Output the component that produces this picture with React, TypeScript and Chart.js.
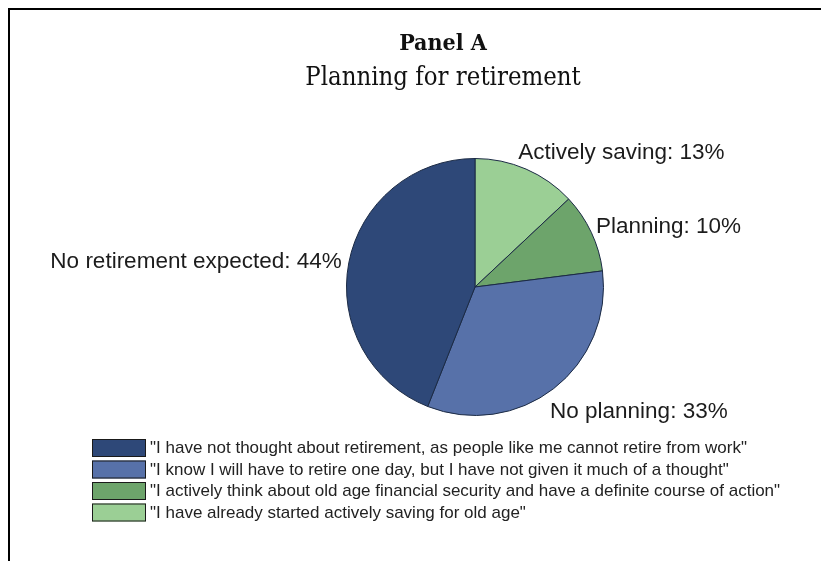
import React, { useEffect, useRef } from "react";
import { Chart, registerables } from "chart.js";

Chart.register(...registerables);

// Slices listed clockwise from 12 o'clock
const categories = ["Actively saving", "Planning", "No planning", "No retirement expected"];
const shares = [13, 10, 33, 44];
const sliceColors = ["#9BCF95", "#6DA46B", "#5771A9", "#2E4878"];

// Legend rows (top to bottom), each pointing at a slice index
const legendOrder = [3, 2, 1, 0];
const legendTexts = [
  "\"I have already started actively saving for old age\"",
  "\"I actively think about old age financial security and have a definite course of action\"",
  "\"I know I will have to retire one day, but I have not given it much of a thought\"",
  "\"I have not thought about retirement, as people like me cannot retire from work\"",
];

const titleText = "Panel A";
const subtitleText = "Planning for retirement";

const W = 821;
const H = 561;

const overlay = {
  id: "overlay",
  afterDraw(chart: any) {
    const ctx = chart.ctx as CanvasRenderingContext2D;
    ctx.save();
    // frame (top + left)
    ctx.fillStyle = "#000";
    ctx.fillRect(8, 8, W - 8, 2);
    ctx.fillRect(8, 8, 2, H - 8);

    // titles
    ctx.textAlign = "center";
    ctx.textBaseline = "middle";
    ctx.fillStyle = "#111";
    ctx.font = "bold 23px 'DejaVu Serif Condensed', 'DejaVu Serif', serif";
    ctx.fillText(titleText, 443, 44);
    ctx.font = "25.5px 'DejaVu Serif Condensed', 'DejaVu Serif', serif";
    ctx.fillText(subtitleText, 443, 78);

    // slice labels
    const meta = chart.getDatasetMeta(0);
    ctx.font = "22.5px 'Liberation Sans', Arial, sans-serif";
    ctx.fillStyle = "#1c1c1c";
    meta.data.forEach((arc: any, i: number) => {
      const p = arc.getProps(["x", "y", "startAngle", "endAngle", "outerRadius"], true);
      const mid = (p.startAngle + p.endAngle) / 2;
      const r = p.outerRadius + 10;
      const s = Math.sin(mid);
      const ax = p.x + Math.cos(mid) * r;
      const ay = p.y + s * r + s * (s > 0 ? 16 : 11) + 3;
      const shift = Math.abs(s) * 15;
      const text = `${categories[i]}: ${shares[i]}%`;
      if (Math.cos(mid) >= 0) {
        ctx.textAlign = "left";
        ctx.fillText(text, ax - shift + 2, ay);
      } else {
        ctx.textAlign = "right";
        ctx.fillText(text, ax + shift, ay);
      }
    });

    // legend
    const boxX = 92;
    const boxW = 54;
    const boxH = 18;
    const top0 = 439;
    const pitch = 21.5;
    ctx.font = "17px 'Liberation Sans', Arial, sans-serif";
    ctx.textAlign = "left";
    ctx.textBaseline = "middle";
    legendOrder.forEach((idx, row) => {
      const y = top0 + row * pitch;
      ctx.fillStyle = sliceColors[idx];
      ctx.fillRect(boxX, y, boxW, boxH);
      ctx.strokeStyle = "#1a1a1a";
      ctx.lineWidth = 1;
      ctx.strokeRect(boxX + 0.5, y + 0.5, boxW - 1, boxH - 1);
      ctx.fillStyle = "#222";
      ctx.fillText(legendTexts[idx], boxX + boxW + 4, y + boxH / 2 + 0.5);
    });
    ctx.restore();
  },
};

export default function App() {
  const ref = useRef<HTMLCanvasElement | null>(null);
  useEffect(() => {
    document.body.style.margin = "0";
    document.body.style.overflow = "hidden";
    document.body.style.background = "#fff";
    if (!ref.current) return;
    const chart = new Chart(ref.current, {
      type: "pie",
      data: {
        labels: categories,
        datasets: [
          {
            data: shares,
            backgroundColor: sliceColors,
            borderColor: "#1b2a44",
            borderWidth: 1,
          },
        ],
      },
      options: {
        responsive: false,
        animation: false,
        devicePixelRatio: 1,
        layout: { padding: { left: 346, right: 217, top: 158, bottom: 145 } },
        plugins: {
          legend: { display: false },
          tooltip: { enabled: false },
          title: { display: false },
        },
      },
      plugins: [overlay],
    });
    return () => chart.destroy();
  }, []);
  return (
    <div style={{ width: W, height: H, background: "#fff" }}>
      <canvas ref={ref} width={W} height={H} style={{ display: "block" }} />
    </div>
  );
}
